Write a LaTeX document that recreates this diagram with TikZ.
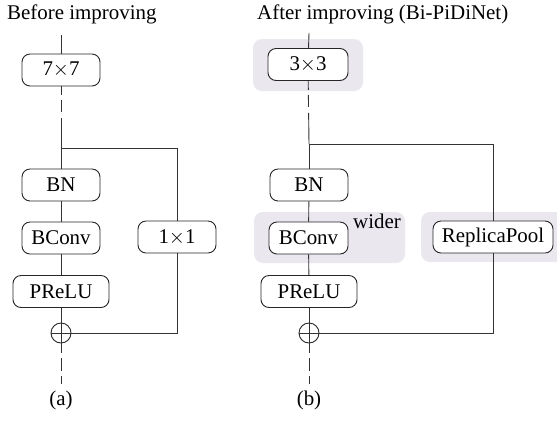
\documentclass[tikz,border=0pt]{standalone}
\usepackage{fontspec}
\setmainfont{Liberation Serif}
\begin{document}
\begin{tikzpicture}[x=1bp,y=-1bp,
  every node/.style={font=\fontsize{21}{24}\selectfont, text=black},
  blk/.style={draw=black!85, line width=0.9bp, rounded corners=8bp, minimum height=32bp, inner sep=0pt, fill=white},
  wA/.style={minimum width=78bp},
  wB/.style={minimum width=96bp},
  wC/.style={minimum width=120bp},
  wire/.style={draw=black!80, line width=0.9bp},
  dashtop/.style={wire, dash pattern=on 9bp off 5bp on 12bp off 6bp on 300bp},
  dashbot/.style={wire, dash pattern=on 10bp off 5bp on 13bp off 5bp on 100bp},
  plus/.style={circle, draw=black!85, line width=0.9bp, minimum size=20bp, inner sep=0pt},
  hl/.style={fill=hlgray, rounded corners=9bp}
]
\definecolor{hlgray}{HTML}{EAE7EF}
\useasboundingbox (0,0) rectangle (557,421);

% highlight backgrounds
\path[hl] (253,39) rectangle (363,91);
\path[hl] (254,212) rectangle (405,263);
\path[hl] (421,212) rectangle (566,262);

% titles
\node[anchor=base west, inner sep=0pt] (tA) at (7,19) {Before improving};
\node[anchor=base west, inner sep=0pt] (tB) at (257,19) {After improving (Bi-PiDiNet)};

% ---- (a) ----
\coordinate (topA) at (61,35);
\node[blk,wA] (kA) at (61,70) {7$\times$7};
\coordinate (brA) at (61,148);
\node[blk,wA] (bnA) at (61,185) {BN};
\node[blk,wA] (bcA) at (61,238) {BConv};
\node[blk,wA] (oneA) at (177,237) {1$\times$1};
\node[blk,wB] (prA) at (61,291.5) {PReLU};
\node[plus] (plA) at (61,333) {};
\coordinate (endA) at (61,384);
\node[anchor=base, inner sep=0pt] (capA) at (61,405) {(a)};

\draw[wire] (topA) -- (kA);
\draw[dashtop] (kA) -- (brA);
\draw[wire] (brA) -- (bnA);
\draw[wire] (bnA) -- (bcA);
\draw[wire] (bcA) -- (prA);
\draw[wire] (prA) -- (plA.north);
\draw[wire] (plA.north) -- (plA.south);
\draw[wire] (plA.west) -- (plA.east);
\draw[dashbot] (plA.south) -- (endA);
\draw[wire] (brA) -| (oneA);
\draw[wire] (oneA) |- (plA.east);

% ---- (b) ----
\coordinate (topB) at (309,33);
\node[blk,minimum width=80bp] (kB) at (308,64.5) {3$\times$3};
\coordinate (brB) at (309,144);
\node[blk,wA] (bnB) at (309,185) {BN};
\node[blk,minimum width=79bp] (bcB) at (308.5,238) {BConv};
\node[anchor=base west, inner sep=0pt] (wid) at (353,228) {wider};
\node[blk,wC] (rpB) at (493,237) {ReplicaPool};
\node[blk,wB] (prB) at (309,291.5) {PReLU};
\node[plus] (plB) at (309,333) {};
\coordinate (endB) at (309,384);
\node[anchor=base, inner sep=0pt] (capB) at (309,405) {(b)};

\draw[wire] (topB) -- (kB);
\draw[dashtop] (kB) -- (brB);
\draw[wire] (brB) -- (bnB);
\draw[wire] (bnB) -- (bcB);
\draw[wire] (bcB) -- (prB);
\draw[wire] (prB) -- (plB.north);
\draw[wire] (plB.north) -- (plB.south);
\draw[wire] (plB.west) -- (plB.east);
\draw[dashbot] (plB.south) -- (endB);
\draw[wire] (brB) -| (rpB);
\draw[wire] (rpB) |- (plB.east);
\end{tikzpicture}
\end{document}
